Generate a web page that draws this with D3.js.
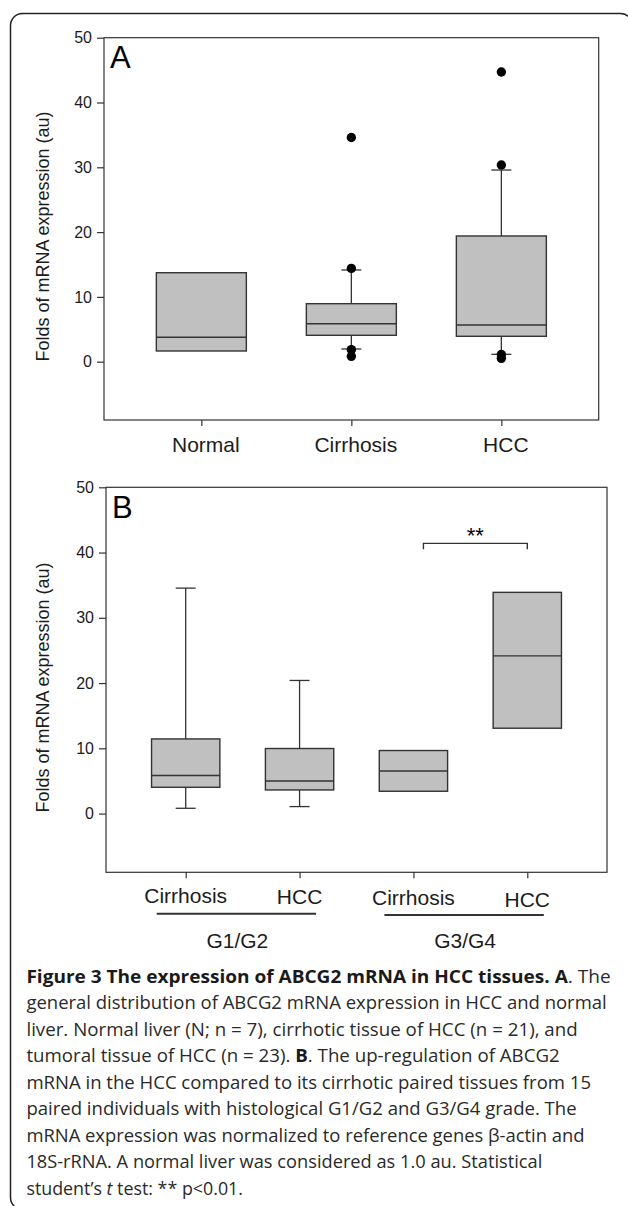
<!DOCTYPE html>
<html><head><meta charset="utf-8">
<script src="https://cdn.jsdelivr.net/npm/d3@7/dist/d3.min.js"></script>
<style>body{margin:0;background:#fff} svg{display:block}</style>
</head><body>
<svg id="c" width="628" height="1206"></svg>
<script>
// ---------- data ----------
const yTickValues = [0, 10, 20, 30, 40, 50];
const yDomain = [-9, 50];

const categoriesA = ["Normal", "Cirrhosis", "HCC"];
const q1A = [1.65, 4.07, 3.92];
const medianA = [3.76, 5.86, 5.66];
const q3A = [13.73, 8.95, 19.4];
const whiskerLowA = [null, 1.96, 1.14];
const whiskerHighA = [null, 14.15, 29.58];
const outliersA = [[], [34.6, 14.4, 1.85, 0.83], [44.7, 30.35, 1.1, 0.52]];

const categoriesB = ["Cirrhosis", "HCC", "Cirrhosis", "HCC"];
const groupOfB = ["G1/G2", "G1/G2", "G3/G4", "G3/G4"];
const groupLabelsB = ["G1/G2", "G3/G4"];
const q1B = [4.03, 3.62, 3.42, 13.08];
const medianB = [5.83, 5.0, 6.53, 24.17];
const q3B = [11.44, 9.97, 9.66, 33.9];
const whiskerLowB = [0.81, 1.07, null, null];
const whiskerHighB = [34.55, 20.4, null, null];
const sigPairB = [2, 3];
const sigValueB = 41.4;
const sigLabelB = "**";

const yTitle = "Folds of mRNA expression (au)";

const captionLines = [
  [["Figure 3 The expression of ABCG2 mRNA in HCC tissues. A", "b"], [". The", "n"]],
  [["general distribution of ABCG2 mRNA expression in HCC and normal", "n"]],
  [["liver. Normal liver (N; n = 7), cirrhotic tissue of HCC (n = 21), and", "n"]],
  [["tumoral tissue of HCC (n = 23). ", "n"], ["B", "b"], [". The up-regulation of ABCG2", "n"]],
  [["mRNA in the HCC compared to its cirrhotic paired tissues from 15", "n"]],
  [["paired individuals with histological G1/G2 and G3/G4 grade. The", "n"]],
  [["mRNA expression was normalized to reference genes \u03B2-actin and", "n"]],
  [["18S-rRNA. A normal liver was considered as 1.0 au. Statistical", "n"]],
  [["student\u2019s ", "n"], ["t", "i"], [" test: ** p<0.01.", "n"]]
];
// caption layout (pixel widths of each line in the figure)
const captionWidths = [584.8, 580.8, 551.6, 533.6, 564.8, 550.4, 558.8, 516.4, 216.8];

// ---------- drawing ----------
const svg = d3.select("#c");
const FONT = "'Liberation Sans', Arial, Helvetica, sans-serif";
const INK = "#1c1c1c";
const LINE = "#333";
const FILL = "#c0c0c0";

// outer rounded frame
svg.append("rect")
  .attr("x", 10.5).attr("y", 13.5).attr("width", 622).attr("height", 1196)
  .attr("rx", 12).attr("ry", 12)
  .attr("fill", "none").attr("stroke", "#222").attr("stroke-width", 1.5);

function drawPanel(o) {
  const keys = o.cats.map((c, i) => (o.groups ? o.groups[i] + " " : "") + c);
  const x = d3.scalePoint().domain(keys).range([o.x0, o.x1]).padding(o.pad);
  const y = d3.scaleLinear().domain(yDomain).range([o.y1, o.y0]);
  const g = svg.append("g");
  const bw = x.step() * 0.6;

  // frame
  g.append("rect").attr("x", o.x0).attr("y", o.y0)
    .attr("width", o.x1 - o.x0).attr("height", o.y1 - o.y0)
    .attr("fill", "none").attr("stroke", LINE).attr("stroke-width", 1.2);

  // y axis
  const ya = g.append("g").attr("transform", `translate(${o.x0},0)`)
    .call(d3.axisLeft(y).tickValues(yTickValues).tickSize(7).tickPadding(5).tickSizeOuter(0));
  ya.select(".domain").remove();
  ya.selectAll("line").attr("stroke", LINE).attr("stroke-width", 1.2);
  ya.selectAll("text").attr("font-family", FONT).attr("font-size", 16).attr("fill", INK);

  // x axis ticks
  const xa = g.append("g").attr("transform", `translate(0,${o.y1})`)
    .call(d3.axisBottom(x).tickSize(6).tickFormat("").tickSizeOuter(0));
  xa.select(".domain").remove();
  xa.selectAll("line").attr("stroke", LINE).attr("stroke-width", 1.2);

  // y title
  const ty = (o.y0 + o.y1) / 2 + 7.7;
  g.append("text").attr("transform", `translate(49,${ty}) rotate(-90)`)
    .attr("text-anchor", "middle").attr("font-family", FONT).attr("font-size", 18)
    .attr("fill", INK).text(yTitle);

  // panel letter
  g.append("text").attr("x", o.x0 + 6).attr("y", o.y0 + 30.5)
    .attr("font-family", FONT).attr("font-size", 31).attr("fill", "#000").text(o.letter);

  keys.forEach((k, i) => {
    const cx = x(k);
    // whiskers
    if (o.wHi[i] != null) {
      g.append("line").attr("x1", cx).attr("x2", cx).attr("y1", y(o.q3[i])).attr("y2", y(o.wHi[i]))
        .attr("stroke", LINE).attr("stroke-width", 1.3);
      g.append("line").attr("x1", cx - 10).attr("x2", cx + 10).attr("y1", y(o.wHi[i])).attr("y2", y(o.wHi[i]))
        .attr("stroke", LINE).attr("stroke-width", 1.3);
    }
    if (o.wLo[i] != null) {
      g.append("line").attr("x1", cx).attr("x2", cx).attr("y1", y(o.q1[i])).attr("y2", y(o.wLo[i]))
        .attr("stroke", LINE).attr("stroke-width", 1.3);
      g.append("line").attr("x1", cx - 10).attr("x2", cx + 10).attr("y1", y(o.wLo[i])).attr("y2", y(o.wLo[i]))
        .attr("stroke", LINE).attr("stroke-width", 1.3);
    }
    // box
    g.append("rect").attr("x", cx - bw / 2).attr("y", y(o.q3[i]))
      .attr("width", bw).attr("height", y(o.q1[i]) - y(o.q3[i]))
      .attr("fill", FILL).attr("stroke", LINE).attr("stroke-width", 1.4);
    g.append("line").attr("x1", cx - bw / 2).attr("x2", cx + bw / 2)
      .attr("y1", y(o.med[i])).attr("y2", y(o.med[i]))
      .attr("stroke", LINE).attr("stroke-width", 1.4);
    // outliers
    (o.out ? o.out[i] : []).forEach(v => {
      g.append("circle").attr("cx", cx).attr("cy", y(v)).attr("r", 4.7).attr("fill", "#000");
    });
    // category label
    g.append("text").attr("x", cx + o.labDx).attr("y", o.labY + (o.labDy ? o.labDy[i] : 0))
      .attr("text-anchor", "middle").attr("font-family", FONT).attr("font-size", 21)
      .attr("fill", INK).text(o.cats[i]);
  });
  return { x, y, keys, g };
}

drawPanel({
  letter: "A", cats: categoriesA, x0: 104, x1: 598.7, y0: 37.7, y1: 420, pad: 0.649,
  q1: q1A, med: medianA, q3: q3A, wLo: whiskerLowA, wHi: whiskerHighA, out: outliersA,
  labDx: 4.5, labY: 452
});

const pB = drawPanel({
  letter: "B", cats: categoriesB, groups: groupOfB, x0: 106, x1: 607, y0: 487.3, y1: 872.3, pad: 0.70,
  q1: q1B, med: medianB, q3: q3B, wLo: whiskerLowB, wHi: whiskerHighB, out: null,
  labDx: 0, labY: 903, labDy: [-0.5, 0.5, 2, 3.5]
});

// group underline + labels
groupLabelsB.forEach((gl, gi) => {
  const idx = groupOfB.map((g, i) => g === gl ? i : -1).filter(i => i >= 0);
  const xa = pB.x(pB.keys[idx[0]]) - 29;
  const xb = pB.x(pB.keys[idx[idx.length - 1]]) + 16.5;
  const ly = 913.8 + gi * 1.2;
  pB.g.append("line").attr("x1", xa).attr("x2", xb).attr("y1", ly).attr("y2", ly)
    .attr("stroke", LINE).attr("stroke-width", 2);
  pB.g.append("text").attr("x", (xa + xb) / 2 + 1).attr("y", 948)
    .attr("text-anchor", "middle").attr("font-family", FONT).attr("font-size", 21)
    .attr("fill", INK).text(gl);
});

// significance bracket
{
  const xa = pB.x(pB.keys[sigPairB[0]]) + 10;
  const xb = pB.x(pB.keys[sigPairB[1]]);
  const yb = pB.y(sigValueB);
  const ye = pB.y(sigValueB - 0.9);
  pB.g.append("path").attr("d", `M${xa},${ye}V${yb}H${xb}V${ye}`)
    .attr("fill", "none").attr("stroke", LINE).attr("stroke-width", 1.4);
  pB.g.append("text").attr("x", (xa + xb) / 2).attr("y", yb - 0.3)
    .attr("text-anchor", "middle").attr("font-family", FONT).attr("font-size", 22)
    .attr("fill", "#000").text(sigLabelB);
}

// caption
captionLines.forEach((segs, li) => {
  const by = 982.7 + li * 26.54;
  const t = svg.append("text").attr("x", 0).attr("y", 0)
    .attr("font-family", "'Open Sans', 'Noto Sans', sans-serif").attr("font-size", 18)
    .attr("fill", "#2a2a2a");
  segs.forEach(([s, st]) => {
    const ts = t.append("tspan").text(s);
    if (st === "b") ts.attr("font-weight", "bold").attr("fill", "#1a1a1a");
    if (st === "i") ts.attr("font-style", "italic");
  });
  const w = t.node().getComputedTextLength();
  const sx = captionWidths[li] / w;
  t.attr("transform", `translate(26.4,${by}) scale(${sx},1)`);
});
</script>
</body></html>
